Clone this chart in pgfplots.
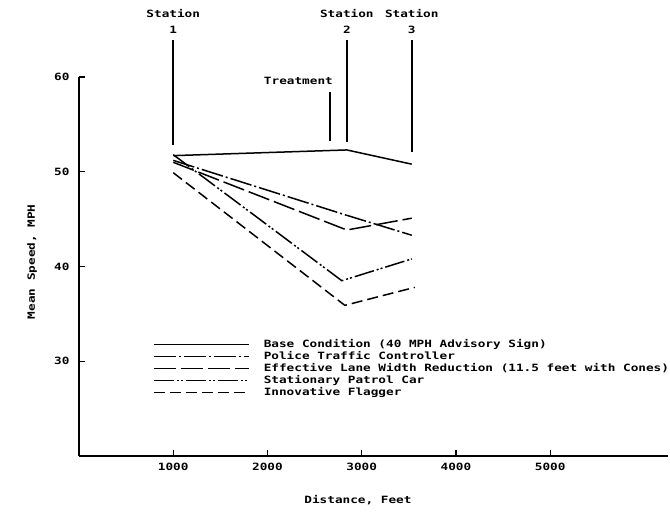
\documentclass[border=0pt]{standalone}
\usepackage{fontspec}
\setmainfont{DejaVu Sans Mono}[FakeStretch=1.27]
\usepackage{pgfplots}
\pgfplotsset{compat=1.18}

\begin{document}
\fontsize{10bp}{12bp}\selectfont\bfseries
\begin{tikzpicture}
\useasboundingbox (-79bp,-59bp) rectangle (591bp,456bp);
\begin{axis}[
  scale only axis,
  width=589bp, height=379bp,
  xmin=0, xmax=6250,
  ymin=20, ymax=60,
  axis lines=left,
  axis line style={-, line width=1.6bp},
  xtick={1000,2000,3000,4000,5000},
  ytick={30,40,50,60},
  tick align=inside,
  major tick length=6bp,
  tick style={line width=1.4bp, black},
  /pgf/number format/assume math mode=true,
  /pgf/number format/1000 sep={},
  xticklabel style={yshift=-4bp},
  yticklabel style={xshift=-6bp},
  xlabel={Distance, Feet},
  xlabel style={at={(axis cs:2960,20)}, anchor=center, yshift=-44bp},
  ylabel={Mean Speed, MPH},
  ylabel style={at={(axis cs:0,40.5)}, anchor=center, yshift=47bp},
  clip=false,
  cycle list={{black, solid, mark=none}},
  legend cell align=left,
  legend image code/.code={\draw[#1, black, line width=1.6bp] (0bp,0bp) -- (95bp,0bp);},
  legend style={at={(axis cs:785,32.3)}, anchor=north west, draw=none, fill=none,
    inner sep=0pt, column sep=14bp, row sep=2.5bp,
    nodes={inner sep=0pt, text height=7.5bp, text depth=2bp},
    font=\fontsize{10bp}{12bp}\selectfont\bfseries},
  every axis plot/.append style={line width=1.5bp, black},
]
\addplot[solid] coordinates {(1000,51.7) (2842,52.3) (3531,50.8)};
\addlegendentry{Base Condition (40 MPH Advisory Sign)}
\addplot[dash pattern=on 22bp off 3bp on 2bp off 3bp] coordinates {(1000,51.2) (2842,45.4) (3531,43.3)};
\addlegendentry{Police Traffic Controller}
\addplot[dash pattern=on 22bp off 5bp] coordinates {(1000,51.0) (2842,43.85) (3531,45.1)};
\addlegendentry{Effective Lane Width Reduction (11.5 feet with Cones)}
\addplot[dash pattern=on 20bp off 3bp on 2bp off 2bp on 2bp off 3bp] coordinates {(1000,51.8) (2789,38.5) (3531,40.8)};
\addlegendentry{Stationary Patrol Car}
\addplot[dash pattern=on 11bp off 5bp] coordinates {(1000,49.9) (2821,35.9) (3563,37.8)};
\addlegendentry{Innovative Flagger}

% station markers
\draw[line width=1.5bp] (axis cs:1000,63.9) -- (axis cs:1000,52.8);
\draw[line width=1.5bp] (axis cs:2842,63.9) -- (axis cs:2842,53.1);
\draw[line width=1.5bp] (axis cs:3531,63.9) -- (axis cs:3531,52.1);
\draw[line width=1.5bp] (axis cs:2662,58.4) -- (axis cs:2662,53.2);
\node at (axis cs:1000,66.65) {Station};
\node at (axis cs:1000,64.96) {1};
\node at (axis cs:2842,66.65) {Station};
\node at (axis cs:2842,64.96) {2};
\node at (axis cs:3531,66.65) {Station};
\node at (axis cs:3531,64.96) {3};
\node at (axis cs:2328,59.6) {Treatment};
\end{axis}
\end{tikzpicture}
\end{document}
